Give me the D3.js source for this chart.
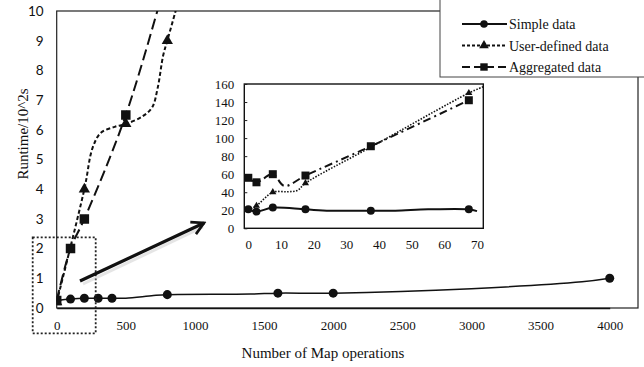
<!DOCTYPE html>
<html>
<head>
<meta charset="utf-8">
<script src="https://cdn.jsdelivr.net/npm/d3@7"></script>
<style>
  body { margin: 0; background: #fff; }
  text { font-family: "Liberation Serif", "Times New Roman", serif; fill: #111; }
</style>
</head>
<body>
<div id="chart"></div>
<script>
// ---- main chart data ----
const simpleX = [0, 100, 200, 300, 400, 500, 700, 800, 1400, 1600, 2000, 3000, 3800, 4000];
const simpleY = [0.25, 0.3, 0.33, 0.33, 0.33, 0.33, 0.42, 0.45, 0.47, 0.5, 0.5, 0.65, 0.88, 1.0];
const simpleMarks = [0, 100, 200, 300, 400, 800, 1600, 2000, 4000];

const userX = [0, 200, 260, 320, 420, 500, 620, 690, 730, 770, 800, 860, 900];
const userY = [0.2, 4, 5.4, 5.9, 6.1, 6.2, 6.45, 6.75, 7.4, 8.5, 9, 10, 10.7];
const userMarks = [0, 200, 500, 800];

const aggX = [0, 100, 200, 500, 800];
const aggY = [0.25, 2, 3, 6.5, 11.2];
const aggMarks = [0, 100, 200, 500];

const xTicks = [0, 500, 1000, 1500, 2000, 2500, 3000, 3500, 4000];
const yTicks = [0, 1, 2, 3, 4, 5, 6, 7, 8, 9, 10];

// ---- inset data ----
const inSimpleX = [0, 2.5, 7.5, 17.5, 25, 37.5, 45, 55, 67.5, 70];
const inSimpleY = [21, 18.5, 23, 21, 19.5, 19.5, 19.5, 21, 21, 19];
const inSimpleMarks = [0, 2.5, 7.5, 17.5, 37.5, 67.5];

const inUserX = [0, 2.5, 7.5, 12, 15, 17.5, 37.5, 67.5, 72];
const inUserY = [20, 25, 40, 40.5, 42, 50, 90, 150, 157];
const inUserMarks = [2.5, 7.5, 17.5, 37.5, 67.5];

const inAggX = [0, 2.5, 7.5, 11, 17.5, 37.5, 67.5];
const inAggY = [56, 51, 60, 47, 58.5, 91, 142];
const inAggMarks = [0, 2.5, 7.5, 17.5, 37.5, 67.5];

const inXTicks = [0, 10, 20, 30, 40, 50, 60, 70];
const inYTicks = [0, 20, 40, 60, 80, 100, 120, 140, 160];

const legendLabels = ["Simple data", "User-defined data", "Aggregated data"];

const W = 644, H = 367;
const svg = d3.select("#chart").append("svg")
  .attr("width", W).attr("height", H);

const plot = {left: 56.7, right: 638, top: 11, bottom: 308};

const x = d3.scaleLinear().domain([0, 4000]).range([56.7, 609.7]);
const y = d3.scaleLinear().domain([0, 10]).range([308, 11]);

svg.append("clipPath").attr("id", "mainClip")
  .append("rect")
  .attr("x", plot.left).attr("y", plot.top)
  .attr("width", plot.right - plot.left).attr("height", plot.bottom - plot.top);

// frame
svg.append("rect")
  .attr("x", plot.left).attr("y", plot.top)
  .attr("width", plot.right - plot.left).attr("height", plot.bottom - plot.top)
  .attr("fill", "none").attr("stroke", "#222").attr("stroke-width", 1.2);

// axes (labels only, no tick marks)
svg.append("g")
  .attr("transform", "translate(0," + plot.bottom + ")")
  .call(d3.axisBottom(x).tickValues(xTicks).tickSize(0).tickPadding(13).tickFormat(d3.format("d")))
  .call(g => g.select(".domain").attr("stroke", "#111").attr("stroke-width", 1.5))
  .call(g => g.selectAll("text").style("font-size", "13px")
    .style("font-family", "'Liberation Serif', serif").attr("fill", "#222"));

svg.append("g")
  .attr("transform", "translate(" + plot.left + ",0)")
  .call(d3.axisLeft(y).tickValues(yTicks).tickSize(0).tickPadding(13))
  .call(g => g.select(".domain").remove())
  .call(g => g.selectAll("text").style("font-size", "13.5px")
    .style("font-family", "Lato, 'Open Sans', sans-serif").attr("fill", "#333"));

svg.append("text")
  .attr("x", 323).attr("y", 358)
  .attr("text-anchor", "middle")
  .style("font-size", "15px")
  .text("Number of Map operations");

svg.append("text")
  .attr("transform", "translate(28,134) rotate(-90)")
  .attr("text-anchor", "middle")
  .style("font-size", "15px")
  .text("Runtime/10^2s");

function zipXY(xs, ys) {
  return xs.map((v, i) => [v, ys[i]]);
}

const mainLine = d3.line()
  .x(d => x(d[0])).y(d => y(d[1]))
  .curve(d3.curveCatmullRom.alpha(0.5));

const mainG = svg.append("g").attr("clip-path", "url(#mainClip)");

mainG.append("path")
  .attr("d", mainLine(zipXY(simpleX, simpleY)))
  .attr("fill", "none").attr("stroke", "#111").attr("stroke-width", 1.5);

mainG.append("path")
  .attr("d", mainLine(zipXY(userX, userY)))
  .attr("fill", "none").attr("stroke", "#111").attr("stroke-width", 2)
  .attr("stroke-dasharray", "4,2.5");

mainG.append("path")
  .attr("d", mainLine(zipXY(aggX, aggY)))
  .attr("fill", "none").attr("stroke", "#111").attr("stroke-width", 2)
  .attr("stroke-dasharray", "11,5");

function valueAt(xs, ys, v) {
  return ys[xs.indexOf(v)];
}

const sym = {
  circle: d3.symbol().type(d3.symbolCircle),
  triangle: d3.symbol().type(d3.symbolTriangle),
  square: d3.symbol().type(d3.symbolSquare)
};

mainG.selectAll(".mc").data(simpleMarks).enter().append("path")
  .attr("transform", d => "translate(" + x(d) + "," + y(valueAt(simpleX, simpleY, d)) + ")")
  .attr("d", sym.circle.size(64)()).attr("fill", "#111");

mainG.selectAll(".mt").data(userMarks).enter().append("path")
  .attr("transform", d => "translate(" + x(d) + "," + y(valueAt(userX, userY, d)) + ")")
  .attr("d", sym.triangle.size(55)()).attr("fill", "#111");

mainG.selectAll(".ms").data(aggMarks).enter().append("path")
  .attr("transform", d => "translate(" + x(d) + "," + y(valueAt(aggX, aggY, d)) + ")")
  .attr("d", sym.square.size(90)()).attr("fill", "#111");

// dotted zoom box and arrow
svg.append("rect")
  .attr("x", 32.7).attr("y", 237.3).attr("width", 63).attr("height", 96)
  .attr("fill", "none").attr("stroke", "#222").attr("stroke-width", 1.8)
  .attr("stroke-dasharray", "2,2");

svg.append("defs").append("marker")
  .attr("id", "arrow").attr("viewBox", "0 0 12 12")
  .attr("refX", 10).attr("refY", 6)
  .attr("markerWidth", 5).attr("markerHeight", 5)
  .attr("orient", "auto")
  .append("path").attr("d", "M1,1 L10,6 L1,11")
  .attr("fill", "none").attr("stroke", "#111").attr("stroke-width", 2);

svg.append("line")
  .attr("x1", 82).attr("y1", 282).attr("x2", 202).attr("y2", 225)
  .attr("stroke", "#ccc").attr("stroke-width", 3).attr("opacity", 0.5)
  .attr("transform", "translate(1,2)");
svg.append("line")
  .attr("x1", 80).attr("y1", 281).attr("x2", 204).attr("y2", 223)
  .attr("stroke", "#111").attr("stroke-width", 3.2)
  .attr("marker-end", "url(#arrow)");

// ---- inset ----
const ix = d3.scaleLinear().domain([0, 70]).range([248.3, 477]);
const iy = d3.scaleLinear().domain([0, 160]).range([228.3, 84]);
const inset = {left: 244.3, right: 483.3, top: 84, bottom: 228.3};

svg.append("rect")
  .attr("x", inset.left).attr("y", inset.top)
  .attr("width", inset.right - inset.left).attr("height", inset.bottom - inset.top)
  .attr("fill", "#fff").attr("stroke", "#111").attr("stroke-width", 1.4);

svg.append("g")
  .attr("transform", "translate(0," + inset.bottom + ")")
  .call(d3.axisBottom(ix).tickValues(inXTicks).tickSize(0).tickPadding(11))
  .call(g => g.select(".domain").remove())
  .call(g => g.selectAll("text").style("font-size", "13px")
    .style("font-family", "'Liberation Serif', serif").attr("fill", "#222"));

svg.append("g")
  .attr("transform", "translate(" + inset.left + ",0)")
  .call(d3.axisRight(iy).tickValues(inYTicks).tickSize(3).tickFormat(""))
  .call(g => g.select(".domain").remove())
  .call(g => g.selectAll("line").attr("stroke", "#222"));

svg.append("g")
  .attr("transform", "translate(" + inset.left + ",0)")
  .call(d3.axisLeft(iy).tickValues(inYTicks).tickSize(0).tickPadding(10))
  .call(g => g.select(".domain").remove())
  .call(g => g.selectAll("text").style("font-size", "13px")
    .style("font-family", "'Liberation Serif', serif").attr("fill", "#222"));

const inLine = d3.line()
  .x(d => ix(d[0])).y(d => iy(d[1]))
  .curve(d3.curveCatmullRom.alpha(0.5));

svg.append("path")
  .attr("d", inLine(zipXY(inSimpleX, inSimpleY)))
  .attr("fill", "none").attr("stroke", "#111").attr("stroke-width", 2);

svg.append("path")
  .attr("d", inLine(zipXY(inUserX, inUserY)))
  .attr("fill", "none").attr("stroke", "#111").attr("stroke-width", 1.6)
  .attr("stroke-dasharray", "1.5,1.5");

svg.append("path")
  .attr("d", inLine(zipXY(inAggX, inAggY)))
  .attr("fill", "none").attr("stroke", "#111").attr("stroke-width", 2)
  .attr("stroke-dasharray", "8,4,2,4");

svg.selectAll(".ic").data(inSimpleMarks).enter().append("path")
  .attr("transform", d => "translate(" + ix(d) + "," + iy(valueAt(inSimpleX, inSimpleY, d)) + ")")
  .attr("d", sym.circle.size(50)()).attr("fill", "#111");

svg.selectAll(".it").data(inUserMarks).enter().append("path")
  .attr("transform", d => "translate(" + ix(d) + "," + iy(valueAt(inUserX, inUserY, d)) + ")")
  .attr("d", sym.triangle.size(22)()).attr("fill", "#111");

svg.selectAll(".is").data(inAggMarks).enter().append("path")
  .attr("transform", d => "translate(" + ix(d) + "," + iy(valueAt(inAggX, inAggY, d)) + ")")
  .attr("d", sym.square.size(64)()).attr("fill", "#111");

// ---- legend ----
const legend = svg.append("g");
legend.append("rect")
  .attr("x", 440).attr("y", -2).attr("width", 210).attr("height", 79)
  .attr("fill", "#fff").attr("stroke", "#444").attr("stroke-width", 1);

const legendDash = [null, "3,2", "8,4"];
const legendSym = [sym.circle.size(45)(), sym.triangle.size(40)(), sym.square.size(55)()];
legendLabels.forEach(function(lab, i) {
  const ly = 24 + i * 21.5;
  legend.append("line")
    .attr("x1", 462).attr("x2", 507).attr("y1", ly).attr("y2", ly)
    .attr("stroke", "#111").attr("stroke-width", 2)
    .attr("stroke-dasharray", legendDash[i]);
  legend.append("path")
    .attr("transform", "translate(484," + ly + ")")
    .attr("d", legendSym[i]).attr("fill", "#111");
  legend.append("text")
    .attr("x", 509).attr("y", ly + 5)
    .style("font-size", "14px")
    .text(lab);
});
</script>
</body>
</html>
